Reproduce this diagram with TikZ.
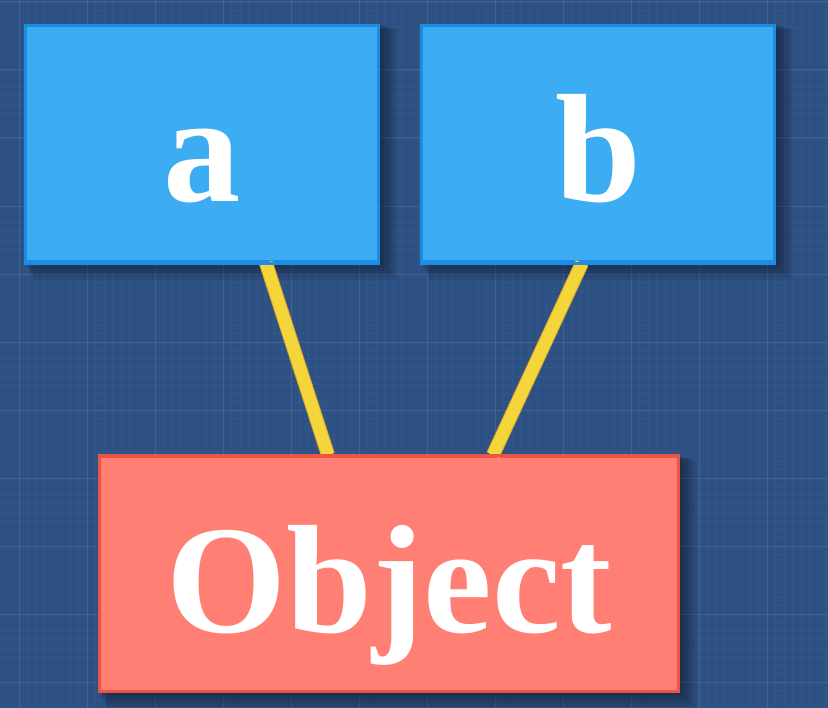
\documentclass[tikz,border=0pt]{standalone}
\usepackage{fontspec}
\setmainfont{Liberation Serif}
\usetikzlibrary{calc}
\definecolor{bgblue}{RGB}{46,81,132}
\definecolor{gridmajor}{RGB}{64,98,148}
\definecolor{gridminor}{RGB}{52,87,138}
\definecolor{boxblue}{RGB}{60,173,242}
\definecolor{boxblueedge}{RGB}{28,140,228}
\definecolor{boxred}{RGB}{255,127,117}
\definecolor{boxrededge}{RGB}{236,84,70}
\definecolor{linkyellow}{RGB}{245,214,58}
\definecolor{linkedge}{RGB}{222,170,40}
\tikzset{
  softshadow/.style={fill=black, opacity=0.08, draw=none},
  boxbase/.style={rectangle, line width=3bp, inner sep=0pt,
    text height=116bp, text depth=0pt, text=white,
    font=\fontsize{155}{165}\selectfont\bfseries},
  bluebox/.style={boxbase, fill=boxblue, draw=boxblueedge,
    minimum width=353bp, minimum height=236bp},
  redbox/.style={boxbase, fill=boxred, draw=boxrededge,
    minimum width=579bp, minimum height=235bp},
  linkline/.style={line width=12bp, draw=linkyellow},
  linkedgeline/.style={line width=14bp, draw=linkedge},
}
\begin{document}
\begin{tikzpicture}[x=1bp,y=-1bp]
  \useasboundingbox (0,0) rectangle (828,708);
  \fill[bgblue] (0,0) rectangle (828,708);
  % minor grid
  \foreach \i in {0,...,100} {
    \draw[gridminor, line width=0.4bp] ({19+8.5*(\i-3)},0) -- ({19+8.5*(\i-3)},708);
    \draw[gridminor, line width=0.4bp] (0,{2+8.5*\i}) -- (828,{2+8.5*\i});
  }
  % major grid
  \foreach \i in {0,...,12} {
    \draw[gridmajor, line width=1bp] ({19+68*\i},0) -- ({19+68*\i},708);
    \draw[gridmajor, line width=1bp] (0,{2+68*\i}) -- (828,{2+68*\i});
  }
  % shadows
  \foreach \s in {2,5,8,11,14,17} {
    \fill[softshadow] (24+\s*0.5,24+\s*0.3) rectangle (380+\s,263+\s);
    \fill[softshadow] (420+\s*0.5,24+\s*0.3) rectangle (776+\s,263+\s);
    \fill[softshadow] (98+\s*0.5,455+\s*0.3) rectangle (680+\s,693+\s);
  }
  % nodes
  \node[bluebox] (a) at (202,143.5) {a};
  \node[bluebox] (b) at (598,143.5) {b};
  \node[redbox] (obj) at (389,574) {Object};
  % connectors
  \coordinate (a1) at ($(a.south)+(64,0)$);
  \coordinate (b1) at ($(b.south)+(-16,0)$);
  \coordinate (o1) at ($(obj.north)+(-61,0)$);
  \coordinate (o2) at ($(obj.north)+(104,0)$);
  \draw[linkedgeline] (a1) -- (o1);
  \draw[linkedgeline] (b1) -- (o2);
  \draw[linkline] (a1) -- (o1);
  \draw[linkline] (b1) -- (o2);
  % redraw box edges over line ends
  \draw[boxblueedge, line width=3bp] (a.south west) -- (a.south east);
  \draw[boxblueedge, line width=3bp] (b.south west) -- (b.south east);
  \draw[boxrededge, line width=3bp] (obj.north west) -- (obj.north east);
\end{tikzpicture}
\end{document}
